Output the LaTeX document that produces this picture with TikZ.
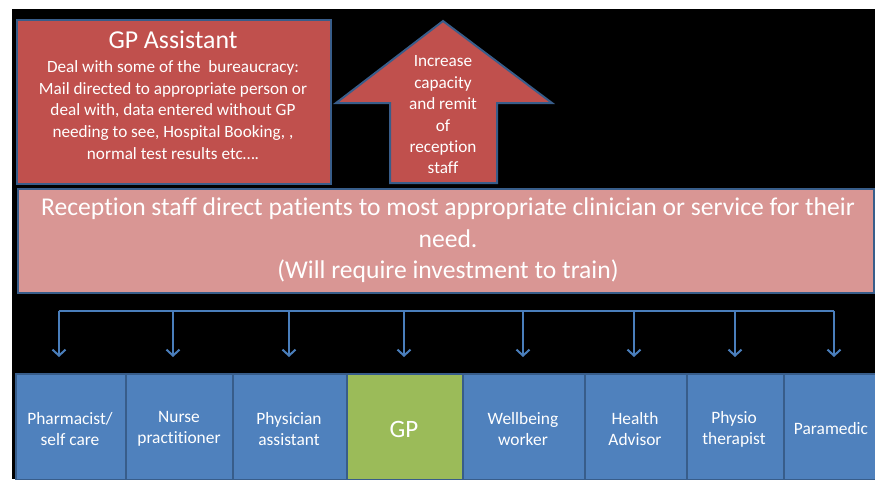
\documentclass[tikz,border=0pt]{standalone}
\usepackage{fontspec}
\setmainfont{Carlito}[Ligatures={NoCommon}]
\usetikzlibrary{arrows.meta}
\definecolor{redbox}{HTML}{C0504D}
\definecolor{pinkbox}{HTML}{D99694}
\definecolor{bluebox}{HTML}{4F81BD}
\definecolor{greenbox}{HTML}{9BBB59}
\definecolor{edgeblue}{HTML}{385D8A}
\definecolor{linkblue}{HTML}{4A7EBB}
\tikzset{
  panel/.style={draw=edgeblue, line width=2pt, inner sep=0pt, text=white},
  role/.style={panel, fill=bluebox, minimum height=106pt, align=center, anchor=north west},
  label/.style={text=white, align=center, inner sep=0pt, font=\fontsize{17.4}{21}\selectfont},
  link/.style={draw=linkblue, line width=2pt},
  linkarrow/.style={link, -{Straight Barb[length=6pt,width=13pt,line width=2pt]}, shorten >=16pt}
}
\begin{document}
\begin{tikzpicture}[x=1pt,y=-1pt]
\useasboundingbox (0,0) rectangle (875,479);
\fill[white] (0,0) rectangle (875,479);
\fill[black] (12,9) rectangle (875,479);
% GP assistant
\node[panel, fill=redbox, minimum width=314pt, minimum height=164pt, anchor=north west] (gpa) at (16,19) {};
\node[text=white, inner sep=0pt, font=\fontsize{25.8}{30}\selectfont] (gpat) at (173,40) {GP Assistant};
\node[label, font=\fontsize{17.2}{21.7}\selectfont] (gpab) at (173,110)
  {Deal with some of the\ \ bureaucracy:\\ Mail directed to appropriate person or\\ deal with, data entered without GP\\ needing to see, Hospital Booking, ,\\ normal test results etc\dots.};
% up arrow
\fill[redbox, draw=edgeblue, line width=2pt, line join=miter]
  (443,21) -- (552,103) -- (497,103) -- (497,183) -- (390,183) -- (390,103) -- (336,103) -- cycle;
\node[label, font=\fontsize{17.2}{21.4}\selectfont] (up) at (443,115)
  {Increase\\ capacity\\ and remit\\ of\\ reception\\ staff};
% reception
\node[panel, fill=pinkbox, minimum width=856pt, minimum height=104pt, anchor=north west] (rec) at (17,188) {};
\node[label, font=\fontsize{25.6}{31.5}\selectfont] (rect) at (448,240.5)
  {Reception staff direct patients to most appropriate clinician or service for their\\ need.\\ (Will require investment to train)};
% bottom boxes
\node[role, minimum width=110pt] (b1) at (15,373) {};
\node[label] at (70,429) {Pharmacist/\\ self care};
\node[role, minimum width=107pt] (b2) at (125,373) {};
\node[label] at (179,429) {Nurse\\ practitioner};
\node[role, minimum width=114pt] (b3) at (232,373) {};
\node[label] at (289,429) {Physician\\ assistant};
\node[role, fill=greenbox, minimum width=116pt] (b4) at (346,373) {};
\node[label, font=\fontsize{25}{30}\selectfont] at (404,429) {GP};
\node[role, minimum width=122pt] (b5) at (462,373) {};
\node[label] at (523,429) {Wellbeing\\ worker};
\node[role, minimum width=102pt] (b6) at (584,373) {};
\node[label] at (635,429) {Health\\ Advisor};
\node[role, minimum width=97pt] (b7) at (686,373) {};
\node[label] at (734,429) {Physio\\ therapist};
\node[role, minimum width=94pt] (b8) at (783,373) {};
\node[label] at (831,429) {Paramedic};
% bus
\coordinate (t1) at (59,311);
\coordinate (t2) at (173,311);
\coordinate (t3) at (289,311);
\coordinate (t4) at (404,311);
\coordinate (t5) at (523,311);
\coordinate (t6) at (634,311);
\coordinate (t7) at (735,311);
\coordinate (t8) at (834,311);
\draw[link] (t1) -- (t8);
\foreach \i in {1,...,8} {\draw[linkarrow] (t\i) -- (t\i |- b\i.north);}
\end{tikzpicture}
\end{document}
